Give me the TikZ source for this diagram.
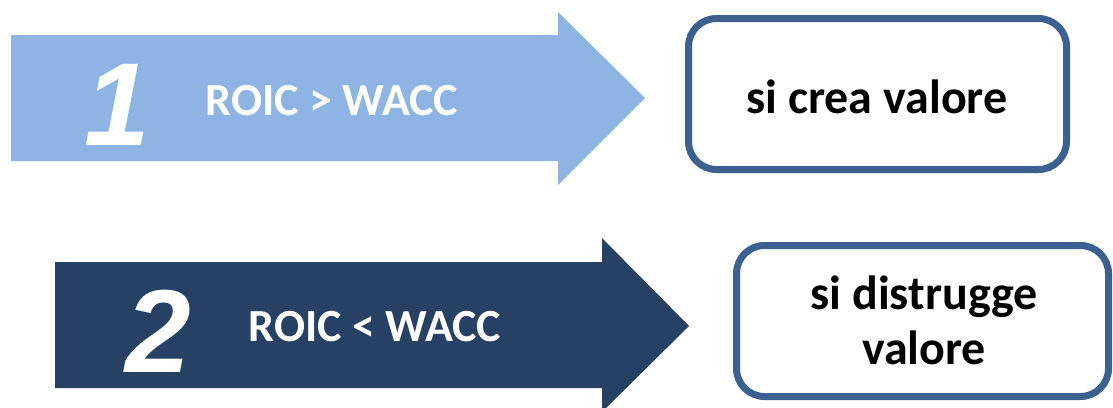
\documentclass[tikz,border=0pt]{standalone}
\usepackage{fontspec}
\setmainfont{Carlito}
\newfontfamily\numfont{Liberation Sans}
\definecolor{lightarrow}{HTML}{8EB4E3}
\definecolor{darkarrow}{HTML}{264163}
\definecolor{boxborder}{HTML}{3C6090}
\begin{document}
\begin{tikzpicture}[x=1pt,y=-1pt,
  bignum/.style={text=white,font=\numfont\bfseries\itshape\fontsize{118}{118}\selectfont,inner sep=0pt},
  arrowtext/.style={text=white,font=\bfseries\fontsize{46}{46}\selectfont,inner sep=0pt},
  resultbox/.style={draw=boxborder,line width=7pt,rounded corners=28pt,fill=white},
  resulttext/.style={font=\bfseries\fontsize{48}{55}\selectfont,align=center,inner sep=0pt}]
\useasboundingbox (0,0) rectangle (1113,407);
% arrow 1
\fill[lightarrow] (11,35) -- (558,35) -- (558,12) -- (645,98) -- (558,185) -- (558,161) -- (11,161) -- cycle;
% arrow 2
\fill[darkarrow] (55,262) -- (602,262) -- (602,238) -- (689,326) -- (602,412) -- (602,388) -- (55,388) -- cycle;
\node[bignum] (n1) at (117,105) {1};
\node[bignum] (n2) at (158,331) {2};
\node[arrowtext,anchor=base] (t1) at (332,115) {ROIC > WACC};
\node[arrowtext,anchor=base] (t2) at (375,341) {ROIC < WACC};
% boxes
\draw[resultbox] (688.5,18.5) rectangle (1066.5,169.5);
\draw[resultbox] (736.5,245.5) rectangle (1108.5,396.5);
\node[resulttext,anchor=base] (r1) at (877,113) {si crea valore};
\node[resulttext] (r2) at (924,320) {si distrugge\\valore};
\end{tikzpicture}
\end{document}
